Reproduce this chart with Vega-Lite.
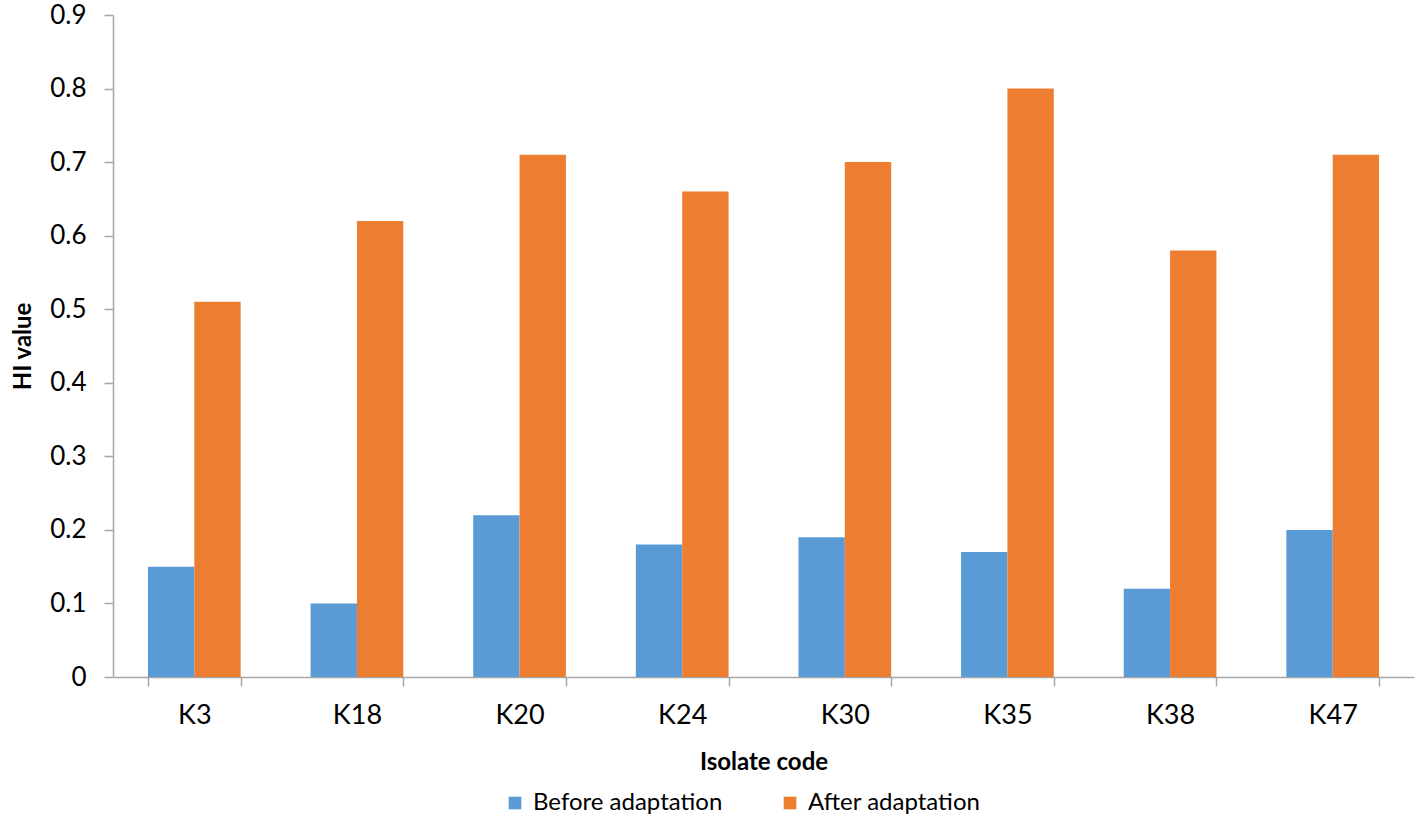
{
  "$schema": "https://vega.github.io/schema/vega-lite/v6.json",
  "autosize": "none",
  "width": 1301,
  "height": 662,
  "padding": {"left": 113, "top": 15, "right": 4, "bottom": 148},
  "background": "white",
  "config": {
    "view": {"stroke": null},
    "font": "Lato",
    "axis": {"grid": false, "domainColor": "#a6a6a6", "tickColor": "#a6a6a6", "domainWidth": 1.5, "tickWidth": 1.5, "labelColor": "#000000", "titleColor": "#000000", "labelFont": "Lato", "titleFont": "Lato"}
  },
  "data": {
    "values": [
      {"isolate": "K3", "stage": "Before adaptation", "hi": 0.15},
      {"isolate": "K3", "stage": "After adaptation", "hi": 0.51},
      {"isolate": "K18", "stage": "Before adaptation", "hi": 0.10},
      {"isolate": "K18", "stage": "After adaptation", "hi": 0.62},
      {"isolate": "K20", "stage": "Before adaptation", "hi": 0.22},
      {"isolate": "K20", "stage": "After adaptation", "hi": 0.71},
      {"isolate": "K24", "stage": "Before adaptation", "hi": 0.18},
      {"isolate": "K24", "stage": "After adaptation", "hi": 0.66},
      {"isolate": "K30", "stage": "Before adaptation", "hi": 0.19},
      {"isolate": "K30", "stage": "After adaptation", "hi": 0.70},
      {"isolate": "K35", "stage": "Before adaptation", "hi": 0.17},
      {"isolate": "K35", "stage": "After adaptation", "hi": 0.80},
      {"isolate": "K38", "stage": "Before adaptation", "hi": 0.12},
      {"isolate": "K38", "stage": "After adaptation", "hi": 0.58},
      {"isolate": "K47", "stage": "Before adaptation", "hi": 0.20},
      {"isolate": "K47", "stage": "After adaptation", "hi": 0.71}
    ]
  },
  "mark": {"type": "bar"},
  "encoding": {
    "x": {
      "field": "isolate", "type": "nominal", "sort": null,
      "scale": {"paddingInner": 0.43, "paddingOuter": 0.215},
      "axis": {"title": "Isolate code", "labelAngle": 0, "labelFontSize": 27, "labelPadding": 16, "tickSize": 9, "tickBand": "extent", "titleFontSize": 24, "titleFontWeight": "bold", "titlePadding": 22}
    },
    "xOffset": {"field": "stage", "type": "nominal", "sort": ["Before adaptation", "After adaptation"], "scale": {"paddingInner": 0, "paddingOuter": 0}},
    "y": {
      "field": "hi", "type": "quantitative",
      "scale": {"domain": [0, 0.9], "nice": false},
      "axis": {"title": "HI value", "values": [0, 0.1, 0.2, 0.3, 0.4, 0.5, 0.6, 0.7, 0.8, 0.9], "labelExpr": "datum.value == 0 ? '0' : format(datum.value, '.1f')", "labelFontSize": 26, "labelPadding": 18, "tickSize": 9, "titleFontSize": 24, "titleFontWeight": "bold", "titlePadding": 14}
    },
    "color": {
      "field": "stage", "type": "nominal",
      "scale": {"domain": ["Before adaptation", "After adaptation"], "range": ["#5B9BD5", "#ED7D31"]},
      "legend": {"title": null, "orient": "none", "direction": "horizontal", "legendX": 390, "legendY": 776, "symbolType": "square", "symbolSize": 160, "symbolStrokeWidth": 0, "labelFontSize": 24, "labelLimit": 0, "labelColor": "#000000", "labelOffset": 6, "columnPadding": 55, "symbolOpacity": 1}
    }
  }
}
